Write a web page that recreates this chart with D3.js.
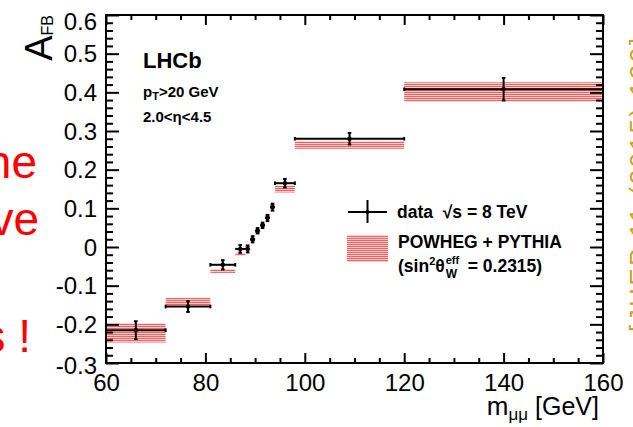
<!DOCTYPE html>
<html>
<head>
<meta charset="utf-8">
<script src="https://cdn.jsdelivr.net/npm/d3@7"></script>
<style>
  html, body { margin: 0; padding: 0; background: #fff; }
  svg { display: block; }
  text { font-family: "Liberation Sans", Arial, Helvetica, sans-serif; }
</style>
</head>
<body>
<svg id="chart" width="633" height="427"></svg>
<script>
// ---- data ----
const binLo    = [60, 72, 81, 86, 88, 89, 90, 91, 92, 93, 94, 98, 120];
const binHi    = [72, 81, 86, 88, 89, 90, 91, 92, 93, 94, 98, 120, 160];
const dataVal  = [-0.215, -0.154, -0.046, -0.005, -0.005, 0.020, 0.042, 0.056, 0.075, 0.103, 0.165, 0.280, 0.408];
const dataErr  = [0.023, 0.014, 0.012, 0.010, 0.009, 0.008, 0.007, 0.007, 0.008, 0.009, 0.011, 0.015, 0.029];
const modelVal = [-0.222, -0.141, -0.062, -0.019, -0.002, 0.018, 0.040, 0.058, 0.080, 0.106, 0.150, 0.264, 0.401];
const modelErr = [0.025, 0.010, 0.005, 0.004, 0.004, 0.004, 0.004, 0.004, 0.004, 0.004, 0.009, 0.010, 0.025];
const xTickVals = [60, 80, 100, 120, 140, 160];
const yTickVals = [-0.3, -0.2, -0.1, 0, 0.1, 0.2, 0.3, 0.4, 0.5, 0.6];
const xDomain = [60, 160];
const yDomain = [-0.3, 0.6];

const svg = d3.select("#chart");
const L = 106, R = 603, T = 15, B = 363;
const x = d3.scaleLinear().domain(xDomain).range([L, R]);
const y = d3.scaleLinear().domain(yDomain).range([B, T]);

// pattern for model band
const defs = svg.append("defs");
const pat = defs.append("pattern").attr("id", "stripes").attr("patternUnits", "userSpaceOnUse")
  .attr("width", 8).attr("height", 2);
pat.append("rect").attr("x", 0).attr("y", 0).attr("width", 8).attr("height", 2).attr("fill", "#ffd2d2");
pat.append("rect").attr("x", 0).attr("y", 0).attr("width", 8).attr("height", 1).attr("fill", "#ff5c5c");

const idx = d3.range(binLo.length);

// model bands
svg.append("g").selectAll("rect").data(idx).join("rect")
  .attr("x", i => x(binLo[i]))
  .attr("width", i => x(binHi[i]) - x(binLo[i]))
  .attr("y", i => y(modelVal[i] + modelErr[i]))
  .attr("height", i => y(modelVal[i] - modelErr[i]) - y(modelVal[i] + modelErr[i]))
  .attr("fill", "url(#stripes)");

// data points
const gd = svg.append("g").attr("stroke", "#000").attr("stroke-width", 2).attr("fill", "none");
idx.forEach(i => {
  const xc = x((binLo[i] + binHi[i]) / 2), yc = y(dataVal[i]);
  const x0 = x(binLo[i]), x1 = x(binHi[i]);
  const y0 = y(dataVal[i] - dataErr[i]), y1 = y(dataVal[i] + dataErr[i]);
  gd.append("line").attr("x1", x0).attr("x2", x1).attr("y1", yc).attr("y2", yc);
  gd.append("line").attr("x1", xc).attr("x2", xc).attr("y1", y0).attr("y2", y1);
  if (x1 - x0 > 12) {
    gd.append("line").attr("x1", x0).attr("x2", x0).attr("y1", yc - 1.8).attr("y2", yc + 1.8);
    gd.append("line").attr("x1", x1).attr("x2", x1).attr("y1", yc - 1.8).attr("y2", yc + 1.8);
  }
  gd.append("line").attr("x1", xc - 1.8).attr("x2", xc + 1.8).attr("y1", y0).attr("y2", y0);
  gd.append("line").attr("x1", xc - 1.8).attr("x2", xc + 1.8).attr("y1", y1).attr("y2", y1);
  gd.append("circle").attr("cx", xc).attr("cy", yc).attr("r", 2.3).attr("fill", "#000").attr("stroke", "none");
});

// axes
const xMinor = d3.range(60, 160.01, 5).filter(v => !xTickVals.includes(v));
const yMinor = d3.range(-30, 60.01, 2).map(v => v / 100).filter(v => !yTickVals.some(t => Math.abs(t - v) < 1e-9));

function styleAxis(g) {
  g.select(".domain").remove();
  g.selectAll(".tick line").attr("stroke", "#000").attr("stroke-width", 2);
  g.selectAll("text").attr("fill", "#000").attr("font-size", 24);
}

// bottom
const gxb = svg.append("g").attr("transform", `translate(0,${B})`)
  .call(d3.axisBottom(x).tickValues(xTickVals).tickSize(-10).tickPadding(10).tickFormat(d3.format("d")));
styleAxis(gxb);
gxb.selectAll("text").attr("dy", "0.71em").attr("y", 11);
const gxbm = svg.append("g").attr("transform", `translate(0,${B})`)
  .call(d3.axisBottom(x).tickValues(xMinor).tickSize(-5).tickFormat(""));
styleAxis(gxbm);
// top
const gxt = svg.append("g").attr("transform", `translate(0,${T})`)
  .call(d3.axisTop(x).tickValues(xTickVals).tickSize(-10).tickFormat(""));
styleAxis(gxt);
const gxtm = svg.append("g").attr("transform", `translate(0,${T})`)
  .call(d3.axisTop(x).tickValues(xMinor).tickSize(-5).tickFormat(""));
styleAxis(gxtm);
// left
const gyl = svg.append("g").attr("transform", `translate(${L},0)`)
  .call(d3.axisLeft(y).tickValues(yTickVals).tickSize(-13).tickPadding(9)
    .tickFormat(d => Math.abs(d) < 1e-9 ? "0" : d.toFixed(1)));
styleAxis(gyl);
gyl.selectAll(".tick text").attr("dy", d => Math.abs(d - 0.6) < 1e-9 ? "0.62em" : (Math.abs(d + 0.3) < 1e-9 ? "0.45em" : "0.34em"));
const gylm = svg.append("g").attr("transform", `translate(${L},0)`)
  .call(d3.axisLeft(y).tickValues(yMinor).tickSize(-7).tickFormat(""));
styleAxis(gylm);
// right
const gyr = svg.append("g").attr("transform", `translate(${R},0)`)
  .call(d3.axisRight(y).tickValues(yTickVals).tickSize(-13).tickFormat(""));
styleAxis(gyr);
const gyrm = svg.append("g").attr("transform", `translate(${R},0)`)
  .call(d3.axisRight(y).tickValues(yMinor).tickSize(-7).tickFormat(""));
styleAxis(gyrm);

// frame
svg.append("rect").attr("x", L).attr("y", T).attr("width", R - L).attr("height", B - T)
  .attr("fill", "none").attr("stroke", "#000").attr("stroke-width", 2);

// axis titles
const xt = svg.append("text").attr("x", 599).attr("y", 415).attr("text-anchor", "end")
  .attr("font-size", 25).attr("fill", "#000");
xt.append("tspan").attr("font-size", 26).text("m");
xt.append("tspan").attr("font-size", 17).attr("dy", 5).text("μμ");
xt.append("tspan").attr("dy", -5).text(" [GeV]");

const yt = svg.append("text").attr("transform", "translate(52,15) rotate(-90)")
  .attr("text-anchor", "end").attr("fill", "#000");
yt.append("tspan").attr("font-size", 38).text("A");
yt.append("tspan").attr("font-size", 16).attr("dy", 1).text("FB");

// labels in plot
svg.append("text").attr("x", 143).attr("y", 68).attr("font-size", 22).attr("font-weight", "bold").text("LHCb");
const pt = svg.append("text").attr("x", 143).attr("y", 97).attr("font-size", 15).attr("font-weight", "bold");
pt.append("tspan").text("p");
pt.append("tspan").attr("font-size", 11).attr("dy", 3).text("T");
pt.append("tspan").attr("dy", -3).text(">20 GeV");
svg.append("text").attr("x", 143).attr("y", 122).attr("font-size", 15).attr("font-weight", "bold").text("2.0<η<4.5");

// legend
const lg = svg.append("g");
lg.append("line").attr("x1", 348).attr("x2", 387).attr("y1", 212).attr("y2", 212).attr("stroke", "#000").attr("stroke-width", 2);
lg.append("line").attr("x1", 367.5).attr("x2", 367.5).attr("y1", 200).attr("y2", 223).attr("stroke", "#000").attr("stroke-width", 2);
lg.append("circle").attr("cx", 367.5).attr("cy", 212).attr("r", 2).attr("fill", "#000");
lg.append("text").attr("x", 397).attr("y", 218).attr("font-size", 17.5).attr("font-weight", "bold")
  .attr("xml:space", "preserve").text("data  √s = 8 TeV");
lg.append("rect").attr("x", 347).attr("y", 235).attr("width", 41).attr("height", 27).attr("fill", "url(#stripes)");
lg.append("text").attr("x", 398).attr("y", 248).attr("font-size", 17.5).attr("font-weight", "bold").text("POWHEG + PYTHIA");
const st = lg.append("text").attr("x", 398).attr("y", 272).attr("font-size", 17.5).attr("font-weight", "bold");
st.append("tspan").text("(sin");
st.append("tspan").attr("font-size", 11).attr("dy", -7).text("2");
st.append("tspan").attr("dy", 7).text("θ");
const stW = st.node().getComputedTextLength();
lg.append("text").attr("x", 398 + stW + 1).attr("y", 264).attr("font-size", 11).attr("font-weight", "bold").text("eff");
lg.append("text").attr("x", 398 + stW + 1).attr("y", 278).attr("font-size", 12).attr("font-weight", "bold").text("W");
lg.append("text").attr("x", 398 + stW + 23).attr("y", 272).attr("font-size", 17.5).attr("font-weight", "bold").text("= 0.2315)");

// cropped slide texts
const red = svg.append("g").attr("fill", "#ff0000").attr("font-size", 46).attr("text-anchor", "end");
red.append("text").attr("x", 37).attr("y", 178).text("he");
red.append("text").attr("x", 39).attr("y", 235).text("ve");
red.append("text").attr("x", 31).attr("y", 352).attr("xml:space", "preserve").text("s !");

svg.append("text").attr("transform", "translate(648,332) rotate(-90)")
  .attr("fill", "#d4a017").attr("font-size", 26)
  .attr("textLength", 294).attr("lengthAdjust", "spacing")
  .text("[JHEP 11 (2015) 190]");
</script>
</body>
</html>
